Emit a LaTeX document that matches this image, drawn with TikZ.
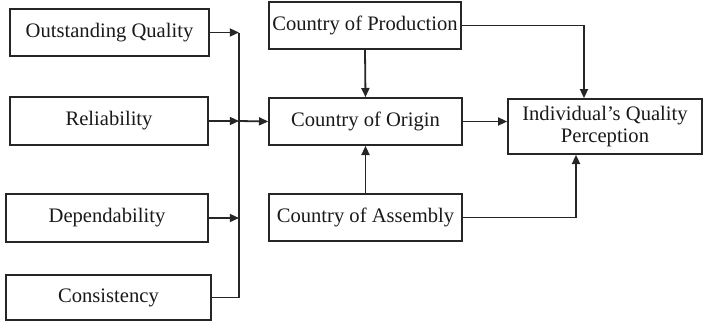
\documentclass[tikz,border=0pt]{standalone}
\usepackage{fontspec}
\setmainfont{Liberation Serif}
\usetikzlibrary{arrows.meta}
\begin{document}
\begin{tikzpicture}[x=0.5pt,y=-0.5pt,
  box/.style={draw=black!85,line width=0.8pt,inner sep=0pt,align=center,
    font=\fontsize{10.3}{11}\selectfont,text=black!90},
  link/.style={draw=black!85,line width=0.9pt},
  arr/.style={link,-{Triangle[length=4.6pt,width=4pt]}}]
\useasboundingbox (0,0) rectangle (703,322);
% left-hand attribute boxes
\node[box,minimum width=99.5pt,minimum height=23.5pt] (oq) at (109.5,32.5) {Outstanding Quality};
\node[box,minimum width=99pt,minimum height=24pt] (rel) at (109,121) {Reliability};
\node[box,minimum width=101pt,minimum height=24pt] (dep) at (107,218) {Dependability};
\node[box,minimum width=102.5pt,minimum height=22.5pt] (con) at (108.5,297.5) {Consistency};
% country boxes
\node[box,minimum width=96pt,minimum height=23.5pt] (cop) at (365,25.5) {Country of Production};
\node[box,minimum width=96.5pt,minimum height=23.5pt] (coo) at (365.5,121.5) {Country of Origin};
\node[box,minimum width=96.5pt,minimum height=23.5pt] (coa) at (365.5,217.5) {Country of Assembly};
% outcome
\node[box,minimum width=97pt,minimum height=27.5pt] (ind) at (605,126.5) {Individual’s Quality\\[0.3pt]Perception};
% collecting bus on the left
\coordinate (bustop) at (239,32.5);
\draw[link] (con.east) -| (bustop);
\draw[arr] (oq.east) -- (bustop);
\draw[arr] (rel.east) -- (rel.east -| bustop);
\draw[arr] (dep.east) -- (dep.east -| bustop);
\draw[arr] (rel.east -| bustop) -- (coo.west);
% country links
\draw[arr] (cop.south) -- (coo.north);
\draw[arr] (coa.north) -- (coo.south);
\draw[arr] (coo.east) -- (coo.east -| ind.west);
\draw[arr] (cop.east) -| ([xshift=-10.5pt]ind.north);
\draw[arr] (coa.east) -| ([xshift=-14.5pt]ind.south);
\end{tikzpicture}
\end{document}
